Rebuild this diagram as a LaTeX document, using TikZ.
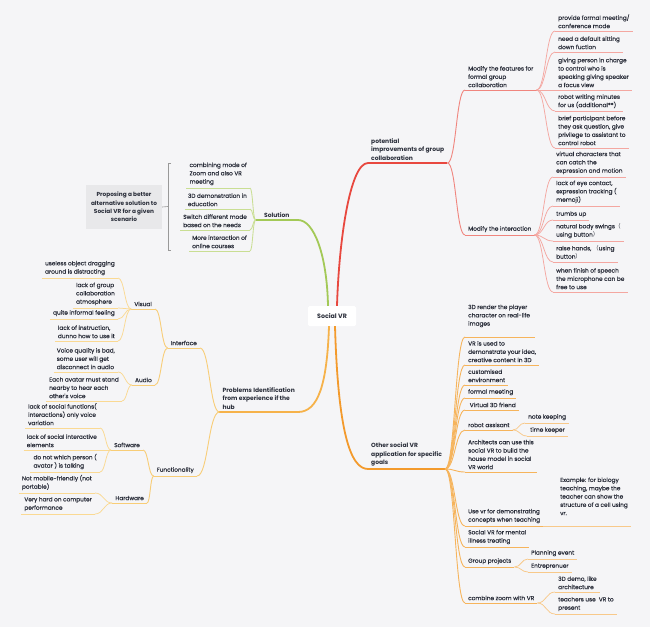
\documentclass[tikz,border=0pt]{standalone}
\usepackage{fontspec}
\setmainfont{Poppins}
\newfontfamily\medfont{Poppins}[FakeBold=0.25]
\newfontfamily\cjk{Noto Sans CJK SC}
\usetikzlibrary{calc}
\definecolor{bg}{HTML}{F5F5F7}
\definecolor{txt}{HTML}{2A2E3A}
\definecolor{rm}{HTML}{E8483F}
\definecolor{ra}{HTML}{F0857E}
\definecolor{rb}{HTML}{F4A7A1}
\definecolor{gm}{HTML}{A3C957}
\definecolor{ga}{HTML}{C9DE93}
\definecolor{om}{HTML}{F6B24A}
\definecolor{oa}{HTML}{F8CD77}
\definecolor{ob}{HTML}{FAD993}
\definecolor{pm}{HTML}{F39A2C}
\definecolor{pa}{HTML}{F6B45C}
\definecolor{pb}{HTML}{F8C98A}
\definecolor{boxg}{HTML}{E8E8EA}
\newcommand\lk[3]{\draw[#1] let \p1=(#2), \p2=(#3) in (\p1) .. controls ({(\x1+\x2)/2},\y1) and ({(\x1+\x2)/2},\y2) .. (\p2);}
\tikzset{
  topic/.style={font=\medfont\fontsize{5.8}{8.3}\selectfont, text=txt, align=left, inner xsep=3pt, inner ysep=2.6pt},
  main/.style={topic, font=\fontsize{6}{8.3}\selectfont\bfseries},
  R/.style={anchor=south west},
  L/.style={anchor=south east},
  ul/.style={append after command={(\tikzlastnode.south west) edge[#1] (\tikzlastnode.south east)}},
  lrm/.style={draw=rm, line width=1.8pt},
  lra/.style={draw=ra, line width=0.9pt},
  lrb/.style={draw=rb, line width=0.75pt},
  lgm/.style={draw=gm, line width=1.8pt},
  lga/.style={draw=ga, line width=0.85pt},
  lom/.style={draw=om, line width=1.8pt},
  loa/.style={draw=oa, line width=0.9pt},
  lob/.style={draw=ob, line width=0.75pt},
  lpm/.style={draw=pm, line width=1.8pt},
  lpa/.style={draw=pa, line width=0.9pt},
  lpb/.style={draw=pb, line width=0.75pt},
}
\begin{document}
\begin{tikzpicture}[x=1pt,y=-1pt]
\fill[bg] (0,0) rectangle (650,627);
\useasboundingbox (0,0) rectangle (650,627);

% centre
\node[fill=white, rounded corners=1.5pt, minimum width=48pt, minimum height=20pt, font=\fontsize{6.3}{8}\selectfont\bfseries, text=txt] (sv) at (332,316) {Social VR};

% ---------- red branch
\node[main,R,ul=lrm] (pig) at (368,163) {potential\\improvements of group\\collaboration};
\node[topic,R,ul=lra] (mf) at (465,90) {Modify the features for\\formal group\\collaboration};
\node[topic,R,ul=lra] (mi) at (465,235) {Modify the interaction};
\node[topic,R,ul=lrb] (mf1) at (555,31) {provide formal meeting/\\conference mode};
\node[topic,R,ul=lrb] (mf2) at (555,52) {need a default sitting\\down fuction};
\node[topic,R,ul=lrb] (mf3) at (555,90) {giving person in charge\\to control who is\\speaking giving speaker\\a focus view};
\node[topic,R,ul=lrb] (mf4) at (555,111) {robot writing minutes\\for us (additional**)};
\node[topic,R,ul=lrb] (mf5) at (555,148) {brief participant before\\they ask question, give\\privilege to assistant to\\control robot};
\node[topic,R,ul=lrb] (mi1) at (553,177) {virtual characters that\\can catch the\\expression and motion};
\node[topic,R,ul=lrb] (mi2) at (553,206) {lack of eye contact,\\expression tracking (\\memoji)};
\node[topic,R,ul=lrb] (mi3) at (553,220) {trumbs up};
\node[topic,R,ul=lrb] (mi4) at (553,241) {natural body swings{\cjk （}\\using button{\cjk ）}};
\node[topic,R,ul=lrb] (mi5) at (553,262) {raise hands,\ {\cjk （}using\\button{\cjk ）}};
\node[topic,R,ul=lrb] (mi6) at (553,292) {when finish of speech\\the microphone can be\\free to use};
\draw[lrm] ($(sv.north)+(5,0)$) .. controls (339,240) and (350,163) .. (pig.south west);
\lk{lra}{pig.south east}{mf.south west}
\lk{lra}{pig.south east}{mi.south west}
\foreach \c in {mf1,mf2,mf3,mf4,mf5}{\lk{lrb}{mf.south east}{\c.south west}}
\foreach \c in {mi1,mi2,mi3,mi4,mi5,mi6}{\lk{lrb}{mi.south east}{\c.south west}}

% ---------- green branch
\node[main,L,ul=lgm,minimum width=42pt] (sol) at (298,220) {Solution};
\node[topic,L,ul=lga] (s1) at (250,188) {combining mode of\\Zoom and also VR\\meeting};
\node[topic,L,ul=lga] (s2) at (250,209) {3D demonstration in\\education};
\node[topic,L,ul=lga] (s3) at (250,230) {Switch different mode\\based on the needs};
\node[topic,L,ul=lga] (s4) at (250,251) {More interaction of\\online courses};
\draw[lgm] ($(sv.north)+(-4,0)$) .. controls (327,255) and (314,220) .. (sol.south east);
\foreach \c in {s1,s2,s3,s4}{\lk{lga}{\c.south east}{sol.south west}}
\node[fill=boxg, font=\fontsize{5.8}{8.3}\selectfont\bfseries, text=txt, align=center, minimum width=76pt, minimum height=44pt, inner sep=1pt] (sum) at (124,207) {Proposing a better\\alternative solution to\\Social VR for a given\\scenario};
\coordinate (bt) at (168,163);
\coordinate (bb) at (168,250);
\draw[gray!80, line width=0.6pt] ($(bt)+(3,0)$) -- (bt) -- (bb) -- ($(bb)+(3,0)$);
\draw[gray!80, line width=0.6pt] ($(bt)!.5!(bb)$) -- (sum.east);

% ---------- problems branch
\node[main,L,ul=lom] (pi) at (298,412) {Problems Identification\\from experience if the\\hub};
\node[topic,L,ul=loa] (if) at (200,348) {Interface};
\node[topic,L,ul=loa] (fn) at (197,476) {Functionality};
\node[topic,L,ul=loa] (vis) at (155,309) {Visual};
\node[topic,L,ul=loa] (aud) at (155,385) {Audio};
\node[topic,L,ul=loa] (sw) at (143,450) {Software};
\node[topic,L,ul=loa] (hw) at (147,503) {Hardware};
\node[topic,L,ul=lob] (v1) at (118,278) {useless object dragging\\around is distracting};
\node[topic,L,ul=lob] (v2) at (118,308) {lack of group\\collaboration\\atmosphere};
\node[topic,L,ul=lob] (v3) at (118,319) {quite informal feeling};
\node[topic,L,ul=lob] (v4) at (118,341) {lack of instruction,\\dunno how to use it};
\node[topic,L,ul=lob] (a1) at (118,372) {Voice quality is bad,\\some user will get\\disconnect in audio};
\node[topic,L,ul=lob] (a2) at (122,401) {Each avatar must stand\\nearby to hear each\\other's voice};
\node[topic,L,ul=lob] (sw1) at (100,428) {lack of social functions(\\interactions) only voice\\variation};
\node[topic,L,ul=lob] (sw2) at (100,450) {lack of social interactive\\elements};
\node[topic,L,ul=lob] (sw3) at (100,472) {do not which person (\\avatar ) is talking};
\node[topic,L,ul=lob] (hw1) at (95,493) {Not mobile-friendly (not\\portable)};
\node[topic,L,ul=lob] (hw2) at (95,514) {Very hard on computer\\performance};
\draw[lom] ($(sv.south)+(-3,0)$) .. controls (327,385) and (318,412) .. (pi.south east);
\lk{loa}{if.south east}{pi.south west}
\lk{loa}{fn.south east}{pi.south west}
\lk{loa}{vis.south east}{if.south west}
\lk{loa}{aud.south east}{if.south west}
\lk{loa}{sw.south east}{fn.south west}
\lk{loa}{hw.south east}{fn.south west}
\foreach \c in {v1,v2,v3,v4}{\lk{lob}{\c.south east}{vis.south west}}
\foreach \c in {a1,a2}{\lk{lob}{\c.south east}{aud.south west}}
\foreach \c in {sw1,sw2,sw3}{\lk{lob}{\c.south east}{sw.south west}}
\foreach \c in {hw1,hw2}{\lk{lob}{\c.south east}{hw.south west}}

% ---------- other social VR branch
\node[main,R,ul=lpm] (os) at (368,469) {Other social VR\\application for specific\\goals};
\node[topic,R] (os0) at (465,330) {3D render the player\\character on real-life\\images};
\node[topic,R,ul=lpa] (os1) at (465,365) {VR is used to\\demonstrate your idea,\\creative content in 3D};
\node[topic,R,ul=lpa] (os2) at (465,385) {customised\\environment};
\node[topic,R,ul=lpa] (os3) at (465,398) {formal meeting};
\node[topic,R,ul=lpa] (os4) at (465,410) {\ Virtual 3D friend};
\node[topic,R,ul=lpa] (os5) at (465,430) {robot assisant};
\node[topic,R,ul=lpb] (os5a) at (525,423) {note keeping};
\node[topic,R,ul=lpb] (os5b) at (527,436) {time keeper};
\node[topic,R,ul=lpa] (os6) at (465,472) {Architects can use this\\social VR to build the\\house model in social\\VR world};
\node[topic,R,ul=lpa] (os7) at (465,526) {Use vr for demonstrating\\concepts when teaching};
\node[topic,R] (os7a) at (557,518) {Example: for biology\\teaching, maybe the\\teacher can show the\\structure of a cell using\\vr.};
\node[topic,R,ul=lpa] (os8) at (465,547) {Social VR for mental\\illness treating};
\node[topic,R,ul=lpa] (os9) at (465,567) {Group projects};
\node[topic,R,ul=lpb] (os9a) at (528,559) {Planning event};
\node[topic,R,ul=lpb] (os9b) at (528,572) {Entreprenuer};
\node[topic,R,ul=lpa] (os10) at (465,603) {combine zoom with VR};
\node[topic,R,ul=lpb] (os10a) at (555,592) {3D demo, like\\architecture};
\node[topic,R,ul=lpb] (os10b) at (555,614) {teachers use\ \ VR to\\present};
\draw[lpm] ($(sv.south)+(3,0)$) .. controls (338,430) and (350,469) .. (os.south west);
\coordinate (os0l) at (465,337);
\coordinate (os0r) at (535,337);
\draw[lpa] (os0l) -- (os0r);
\lk{lpa}{os.south east}{os0l}
\foreach \c in {os1,os2,os3,os4,os5,os6,os7,os8,os9,os10}{\lk{lpa}{os.south east}{\c.south west}}
\lk{lpb}{os5.south east}{os5a.south west}
\lk{lpb}{os5.south east}{os5b.south west}
\draw[lpb] (os7.south east) -- (os7a.west |- os7.south) -- (os7a.east |- os7.south);
\lk{lpb}{os9.south east}{os9a.south west}
\lk{lpb}{os9.south east}{os9b.south west}
\lk{lpb}{os10.south east}{os10a.south west}
\lk{lpb}{os10.south east}{os10b.south west}
\end{tikzpicture}
\end{document}
